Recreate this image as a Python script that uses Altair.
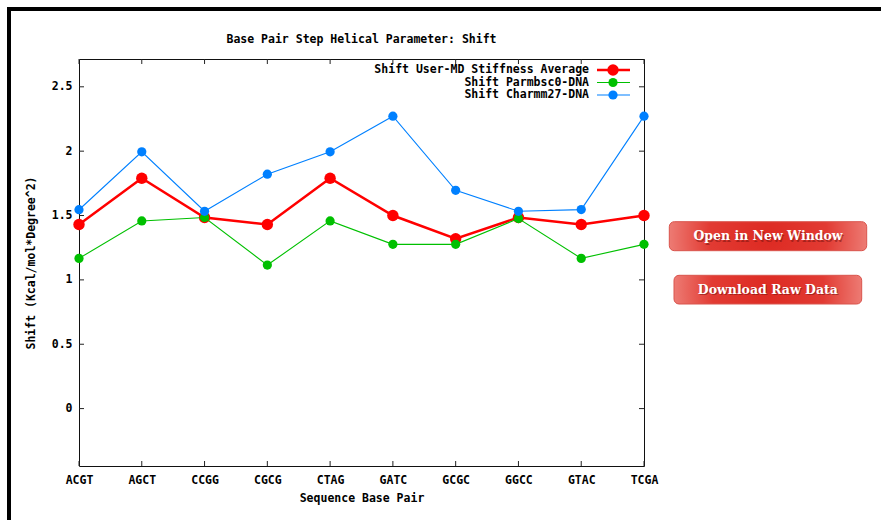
import altair as alt
import pandas as pd

# ---------------- data ----------------
categories = ["ACGT", "AGCT", "CCGG", "CGCG", "CTAG", "GATC", "GCGC", "GGCC", "GTAC", "TCGA"]
avg_values = [1.43, 1.79, 1.485, 1.43, 1.79, 1.50, 1.32, 1.485, 1.43, 1.50]
parmbsc0_values = [1.167, 1.458, 1.485, 1.115, 1.458, 1.276, 1.276, 1.476, 1.167, 1.276]
charmm27_values = [1.545, 1.995, 1.533, 1.821, 1.995, 2.272, 1.696, 1.533, 1.546, 2.272]
series_names = ["Shift User-MD Stiffness Average", "Shift Parmbsc0-DNA", "Shift Charmm27-DNA"]
y_tick_values = [0, 0.5, 1, 1.5, 2, 2.5]
chart_title = "Base Pair Step Helical Parameter: Shift"
x_title = "Sequence Base Pair"
y_title = "Shift (Kcal/mol*Degree^2)"
button_labels = ["Open in New Window", "Download Raw Data"]

# ---------------- layout / style ----------------
W, H = 565, 407
PAD = {"left": 79, "top": 59, "right": 881 - 79 - W, "bottom": 520 - 59 - H}
MONO = "DejaVu Sans Mono"
FS = 11.5
colors = ["#ff0000", "#00c000", "#0080ff"]
line_widths = [2.5, 1.1, 1.1]
point_sizes = [130, 85, 85]

series_values = [avg_values, parmbsc0_values, charmm27_values]

x_enc = alt.X(
    "cat:N",
    scale=alt.Scale(type="point", domain=categories, padding=0),
    axis=alt.Axis(
        title=x_title, ticks=False, domain=False, grid=False,
        labelFont=MONO, labelFontSize=FS, labelFontWeight="bold", labelColor="black",
        labelAngle=0, labelBaseline="middle", labelPadding=14,
        titleFont=MONO, titleFontSize=FS, titleFontWeight="bold", titleColor="black",
        titleX=W / 2, titleY=32, titleBaseline="middle", titleAlign="center",
    ),
)
y_enc = alt.Y(
    "val:Q",
    scale=alt.Scale(domain=[-0.446, 2.716], nice=False, zero=False),
    axis=alt.Axis(
        title=y_title, values=y_tick_values, ticks=False, domain=False, grid=False,
        labelExpr="datum.value + ''",
        labelFont=MONO, labelFontSize=FS, labelFontWeight="bold", labelColor="black",
        labelPadding=7,
        titleFont=MONO, titleFontSize=FS, titleFontWeight="bold", titleColor="black",
        titleX=-48, titleY=H / 2, titleAngle=270, titleBaseline="middle", titleAlign="center",
    ),
)

layers = []

one = pd.DataFrame({"a": [0]})

# page border (top and left black lines)
layers.append(alt.Chart(one).mark_rule(color="black", strokeWidth=4).encode(
    x=alt.value(-72), x2=alt.value(W + PAD["right"] + 5), y=alt.value(-50)))
layers.append(alt.Chart(one).mark_rule(color="black", strokeWidth=4).encode(
    x=alt.value(-70), y=alt.value(-52), y2=alt.value(H + PAD["bottom"] + 5)))

# chart title
layers.append(alt.Chart(one).mark_text(
    font=MONO, fontSize=FS, fontWeight="bold", color="black",
    align="center", baseline="middle").encode(
    x=alt.value(W / 2), y=alt.value(-19), text=alt.value(chart_title)))

# inward tick marks on the frame
xt = pd.DataFrame({"cat": categories})
yt = pd.DataFrame({"val": y_tick_values})
tick_color = "#222222"
layers.append(alt.Chart(xt).mark_rule(color=tick_color, strokeWidth=1).encode(
    x=x_enc, y=alt.value(H), y2=alt.value(H - 5)))
layers.append(alt.Chart(xt).mark_rule(color=tick_color, strokeWidth=1).encode(
    x=x_enc, y=alt.value(0), y2=alt.value(5)))
layers.append(alt.Chart(yt).mark_rule(color=tick_color, strokeWidth=1).encode(
    y=y_enc, x=alt.value(0), x2=alt.value(5)))
layers.append(alt.Chart(yt).mark_rule(color=tick_color, strokeWidth=1).encode(
    y=y_enc, x=alt.value(W), x2=alt.value(W - 5)))

# series
for i, name in enumerate(series_names):
    df = pd.DataFrame({"cat": categories, "val": series_values[i]})
    base = alt.Chart(df).encode(x=x_enc, y=y_enc)
    layers.append(base.mark_line(color=colors[i], strokeWidth=line_widths[i]))
    layers.append(base.mark_circle(color=colors[i], size=point_sizes[i], opacity=1))

# legend (gnuplot style: text, then line sample with marker)
leg_y = [11, 23.5, 36]
for i, name in enumerate(series_names):
    layers.append(alt.Chart(one).mark_text(
        font=MONO, fontSize=FS, fontWeight="bold", color="black",
        align="right", baseline="middle").encode(
        x=alt.value(510), y=alt.value(leg_y[i]), text=alt.value(name)))
    layers.append(alt.Chart(one).mark_rule(color=colors[i], strokeWidth=line_widths[i]).encode(
        x=alt.value(518), x2=alt.value(551), y=alt.value(leg_y[i])))
    layers.append(alt.Chart(one).mark_circle(color=colors[i], size=point_sizes[i], opacity=1).encode(
        x=alt.value(534), y=alt.value(leg_y[i])))

# buttons
grad = alt.RadialGradient(
    gradient="radial",
    stops=[
        alt.GradientStop(color="#dd2a22", offset=0),
        alt.GradientStop(color="#e23b33", offset=0.5),
        alt.GradientStop(color="#f29a93", offset=1),
    ],
    x1=0.5, y1=0.5, r1=0, x2=0.5, y2=0.5, r2=0.6,
)
btn_boxes = [(590.3, 787.7, 162.7, 191.7), (595, 782.7, 216.3, 245)]
for (x1, x2, y1, y2), label in zip(btn_boxes, button_labels):
    layers.append(alt.Chart(one).mark_rect(
        fill=grad, stroke="#d9544d", strokeWidth=1, cornerRadius=5).encode(
        x=alt.value(x1), x2=alt.value(x2), y=alt.value(y1), y2=alt.value(y2)))
    cx, cy = (x1 + x2) / 2, (y1 + y2) / 2
    layers.append(alt.Chart(one).mark_text(
        font="DejaVu Serif", fontSize=12.5, fontWeight="bold", color="#7a1410", opacity=0.55,
        align="center", baseline="middle").encode(
        x=alt.value(cx + 1), y=alt.value(cy + 1.5), text=alt.value(label)))
    layers.append(alt.Chart(one).mark_text(
        font="DejaVu Serif", fontSize=12.5, fontWeight="bold", color="#ffffff",
        align="center", baseline="middle").encode(
        x=alt.value(cx), y=alt.value(cy), text=alt.value(label)))

chart = alt.layer(*layers).properties(
    width=W, height=H,
    autosize=alt.AutoSizeParams(type="none"),
    padding=PAD,
    background="white",
).configure_view(stroke="#111111", strokeWidth=1)

chart.save("out.html", embed_options={"renderer": "svg", "actions": False})
